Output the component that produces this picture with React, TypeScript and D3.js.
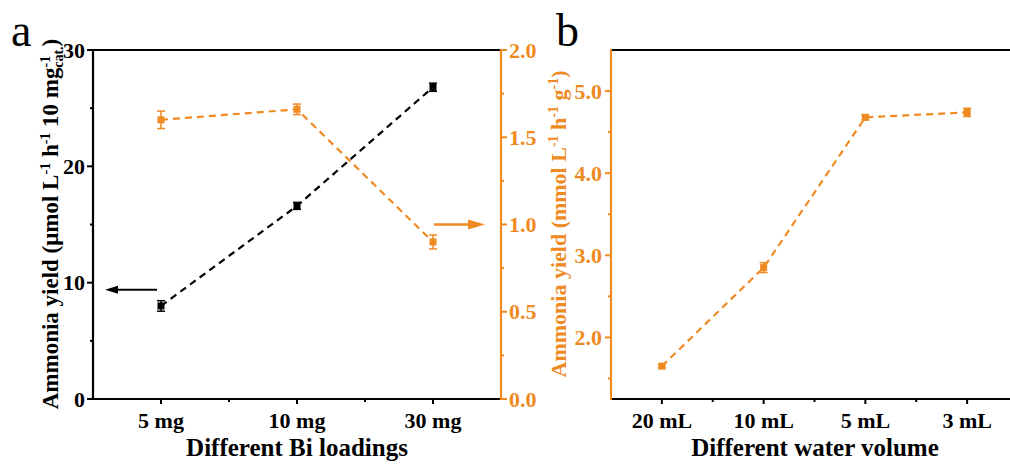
import React from 'react';
import * as d3 from 'd3';

// Panel a: ammonia yield vs Bi loading (two y axes)
const loadings = ['5 mg', '10 mg', '30 mg'];
const yieldPerMass = [8.0, 16.6, 26.8];
const yieldPerMassErr = [0.45, 0.3, 0.35];
const yieldPerGram = [1.6, 1.66, 0.9];
const yieldPerGramErr = [0.05, 0.03, 0.04];

// Panel b: ammonia yield vs water volume
const volumes = ['20 mL', '10 mL', '5 mL', '3 mL'];
const volumeYield = [1.65, 2.85, 4.68, 4.74];
const volumeYieldErr = [0.02, 0.06, 0.03, 0.05];

const leftTicks = [0, 10, 20, 30];
const leftMinor = [5, 15, 25];
const rightTicks = [0, 0.5, 1.0, 1.5, 2.0];
const rightMinor = [0.25, 0.75, 1.25, 1.75];
const bTicks = [2, 3, 4, 5];
const bMinor = [1.5, 2.5, 3.5, 4.5];

const ORANGE = '#EF8A22';
const FONT = 'Liberation Serif';

const W = 1010;
const H = 467;
const top = 50;
const bottom = 399;

const xA = d3.scalePoint<string>().domain(loadings).range([93, 501]).padding(0.5);
const yL = d3.scaleLinear().domain([0, 30]).range([bottom, top]);
const yR = d3.scaleLinear().domain([0, 2]).range([bottom, top]);

const xB = d3.scalePoint<string>().domain(volumes).range([611, 1018]).padding(0.5);
const yB = d3.scaleLinear().domain([1.25, 5.5]).range([bottom, top]);

const dashed = '7,5';

function Series({
  xs, ys, errs, color,
}: { xs: number[]; ys: number[]; errs: [number, number][]; color: string }) {
  const line = d3.line<number>().x((_, i) => xs[i]).y((d) => d);
  return (
    <g>
      <path d={line(ys) || ''} fill="none" stroke={color} strokeWidth={2.2} strokeDasharray={dashed} />
      {xs.map((x, i) => (
        <g key={i}>
          <line x1={x} x2={x} y1={errs[i][0]} y2={errs[i][1]} stroke={color} strokeWidth={1.5} />
          <line x1={x - 4} x2={x + 4} y1={errs[i][0]} y2={errs[i][0]} stroke={color} strokeWidth={1.5} />
          <line x1={x - 4} x2={x + 4} y1={errs[i][1]} y2={errs[i][1]} stroke={color} strokeWidth={1.5} />
          <rect x={x - 3.5} y={ys[i] - 3.5} width={7} height={7} fill={color} />
        </g>
      ))}
    </g>
  );
}

export default function App() {
  const tickFont = 22;
  const fmt1 = d3.format('.1f');

  const aX = loadings.map((c) => xA(c) as number);
  const bX = volumes.map((c) => xB(c) as number);

  return (
    <svg width={W} height={H} style={{ position: 'absolute', left: 0, top: 0, background: '#fff' }}
      fontFamily={FONT}>
      <rect width={W} height={H} fill="#fff" />

      {/* panel letters */}
      <text x={11} y={46} fontSize={46} fill="#000">a</text>
      <text x={556} y={46} fontSize={46} fill="#000">b</text>

      {/* ---------- panel a ---------- */}
      <line x1={93} x2={501} y1={top} y2={top} stroke="#000" strokeWidth={2.2} />
      <line x1={93} x2={501} y1={bottom} y2={bottom} stroke="#000" strokeWidth={2.2} />
      <line x1={93} x2={93} y1={top - 1} y2={bottom + 1} stroke="#000" strokeWidth={2.2} />
      <line x1={501} x2={501} y1={top - 1} y2={bottom + 1} stroke={ORANGE} strokeWidth={2.2} />

      {leftTicks.map((t) => (
        <g key={t}>
          <line x1={87} x2={93} y1={yL(t)} y2={yL(t)} stroke="#000" strokeWidth={2} />
          <text x={85} y={yL(t)} dy="0.35em" textAnchor="end" fontSize={tickFont} fontWeight={700}>{t}</text>
        </g>
      ))}
      {leftMinor.map((t) => (
        <line key={t} x1={90} x2={93} y1={yL(t)} y2={yL(t)} stroke="#000" strokeWidth={2} />
      ))}

      {rightTicks.map((t) => (
        <g key={t}>
          <line x1={501} x2={507} y1={yR(t)} y2={yR(t)} stroke={ORANGE} strokeWidth={2} />
          <text x={509} y={yR(t)} dy="0.35em" textAnchor="start" fontSize={tickFont} fontWeight={700} fill={ORANGE}>{fmt1(t)}</text>
        </g>
      ))}
      {rightMinor.map((t) => (
        <line key={t} x1={501} x2={504} y1={yR(t)} y2={yR(t)} stroke={ORANGE} strokeWidth={2} />
      ))}

      {aX.map((x, i) => (
        <g key={i}>
          <line x1={x} x2={x} y1={bottom} y2={bottom + 5} stroke="#000" strokeWidth={2} />
          <text x={x} y={428} textAnchor="middle" fontSize={tickFont} fontWeight={700}>{loadings[i]}</text>
        </g>
      ))}
      {aX.slice(0, -1).map((x, i) => {
        const m = (x + aX[i + 1]) / 2;
        return <line key={i} x1={m} x2={m} y1={bottom} y2={bottom + 3} stroke="#000" strokeWidth={2} />;
      })}

      <text x={297} y={456} textAnchor="middle" fontSize={25} fontWeight={700}>Different Bi loadings</text>

      <text transform="translate(58,224) rotate(-90)" textAnchor="middle" fontSize={23} fontWeight={700}>
        Ammonia yield (μmol L<tspan dy={-8} fontSize={14}>-1</tspan>
        <tspan dy={8}> h</tspan><tspan dy={-8} fontSize={14}>-1</tspan>
        <tspan dy={8}> 10 mg</tspan><tspan dy={-8} fontSize={14}>-1</tspan>
        <tspan dx={-12} dy={13} fontSize={14}>cat.</tspan>
        <tspan dy={-5}>)</tspan>
      </text>

      <text transform="translate(566,224) rotate(-90)" textAnchor="middle" fontSize={22} fontWeight={700} fill={ORANGE}>
        Ammonia yield (mmol L<tspan dy={-8} fontSize={14}>-1</tspan>
        <tspan dy={8}> h</tspan><tspan dy={-8} fontSize={14}>-1</tspan>
        <tspan dy={8}> g</tspan><tspan dy={-8} fontSize={14}>-1</tspan>
        <tspan dy={8}>)</tspan>
      </text>

      <Series
        xs={aX}
        ys={yieldPerMass.map((v) => yL(v))}
        errs={yieldPerMass.map((v, i) => [yL(v + yieldPerMassErr[i]), yL(v - yieldPerMassErr[i])] as [number, number])}
        color="#000"
      />
      <Series
        xs={aX}
        ys={yieldPerGram.map((v) => yR(v))}
        errs={yieldPerGram.map((v, i) => [yR(v + yieldPerGramErr[i]), yR(v - yieldPerGramErr[i])] as [number, number])}
        color={ORANGE}
      />

      {/* axis indicator arrows */}
      <line x1={aX[0] - 4} x2={114} y1={yL(9.4)} y2={yL(9.4)} stroke="#000" strokeWidth={2} />
      <path d={`M105,${yL(9.4)} L118,${yL(9.4) - 4} L118,${yL(9.4) + 4} Z`} fill="#000" />
      <line x1={aX[2] + 1} x2={472} y1={yR(1.0)} y2={yR(1.0)} stroke={ORANGE} strokeWidth={2.5} />
      <path d={`M485,${yR(1.0)} L468,${yR(1.0) - 5} L468,${yR(1.0) + 5} Z`} fill={ORANGE} />

      {/* ---------- panel b ---------- */}
      <line x1={611} x2={1018} y1={top} y2={top} stroke="#000" strokeWidth={2.2} />
      <line x1={611} x2={1018} y1={bottom} y2={bottom} stroke="#000" strokeWidth={2.2} />
      <line x1={611} x2={611} y1={top - 1} y2={bottom + 1} stroke={ORANGE} strokeWidth={2.2} />

      {bTicks.map((t) => (
        <g key={t}>
          <line x1={605} x2={611} y1={yB(t)} y2={yB(t)} stroke={ORANGE} strokeWidth={2} />
          <text x={602} y={yB(t)} dy="0.35em" textAnchor="end" fontSize={tickFont} fontWeight={700} fill={ORANGE}>{fmt1(t)}</text>
        </g>
      ))}
      {bMinor.map((t) => (
        <line key={t} x1={608} x2={611} y1={yB(t)} y2={yB(t)} stroke={ORANGE} strokeWidth={2} />
      ))}

      {bX.map((x, i) => (
        <g key={i}>
          <line x1={x} x2={x} y1={bottom} y2={bottom + 5} stroke="#000" strokeWidth={2} />
          <text x={x} y={428} textAnchor="middle" fontSize={tickFont} fontWeight={700}>{volumes[i]}</text>
        </g>
      ))}
      {bX.slice(0, -1).map((x, i) => {
        const m = (x + bX[i + 1]) / 2;
        return <line key={i} x1={m} x2={m} y1={bottom} y2={bottom + 3} stroke="#000" strokeWidth={2} />;
      })}

      <text x={815} y={456} textAnchor="middle" fontSize={25} fontWeight={700}>Different water volume</text>

      <Series
        xs={bX}
        ys={volumeYield.map((v) => yB(v))}
        errs={volumeYield.map((v, i) => [yB(v + volumeYieldErr[i]), yB(v - volumeYieldErr[i])] as [number, number])}
        color={ORANGE}
      />
    </svg>
  );
}
